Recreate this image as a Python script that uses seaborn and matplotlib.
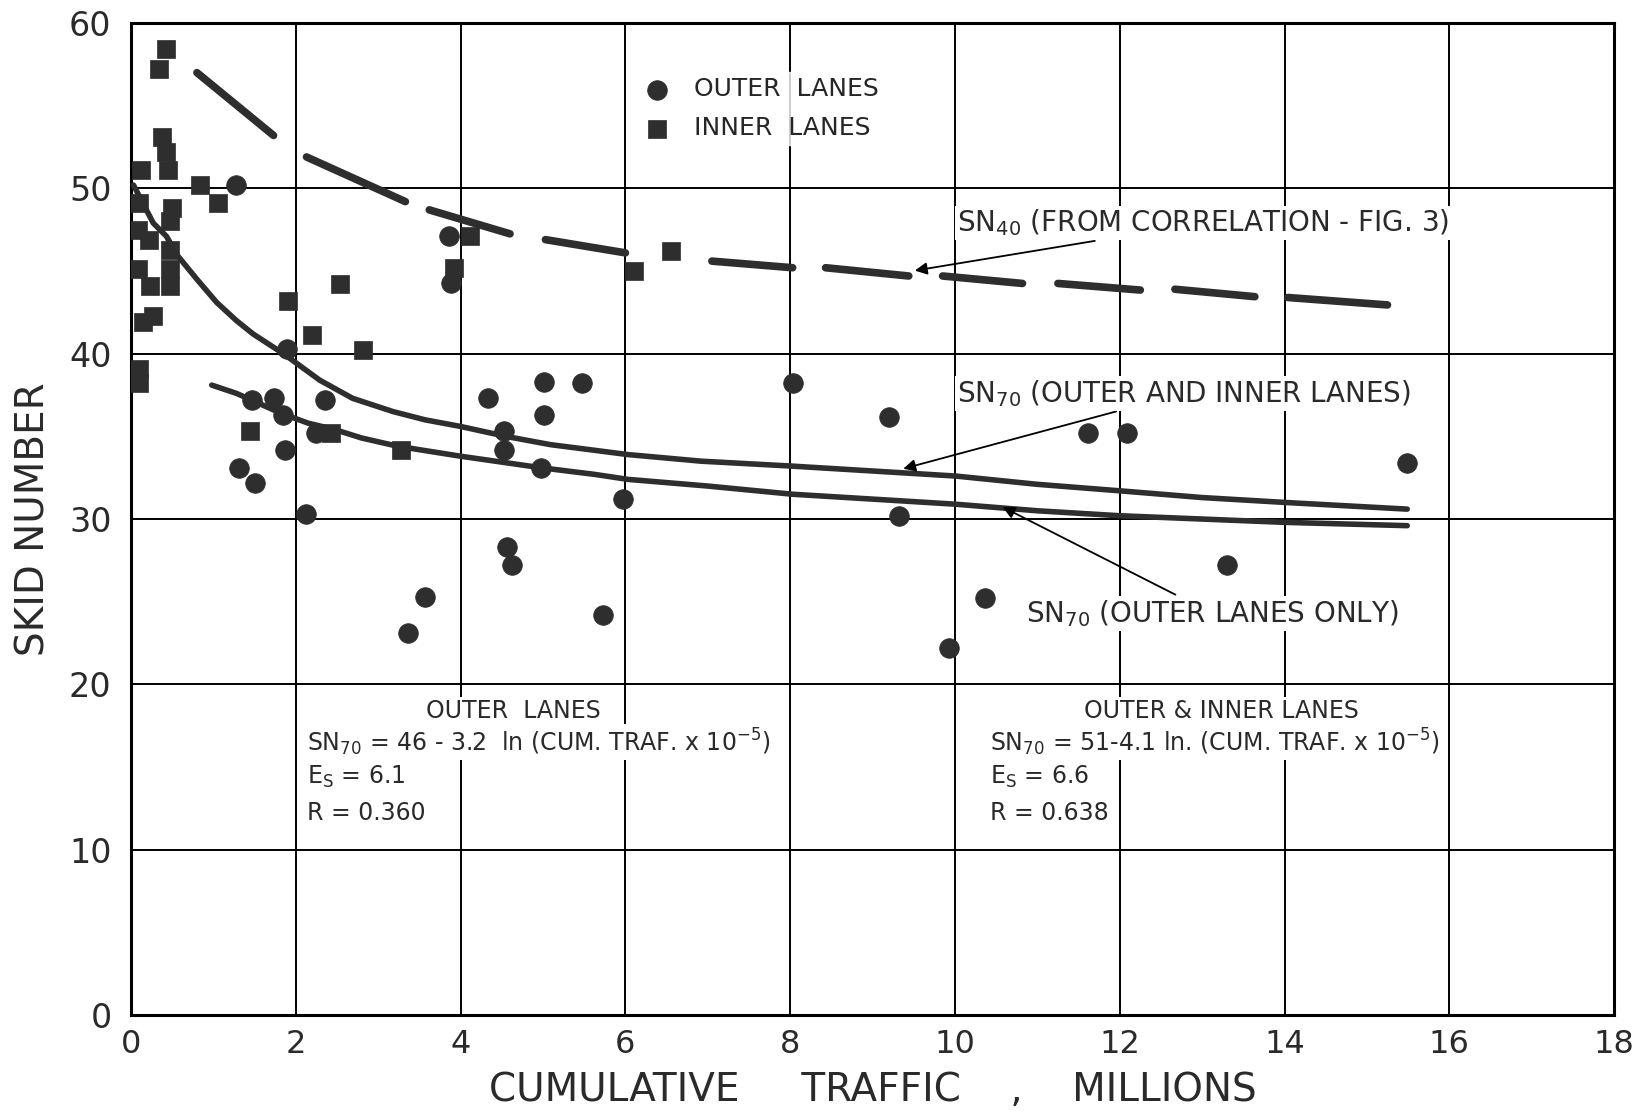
import matplotlib
matplotlib.use("Agg")
from matplotlib import pyplot as plt
import pandas as pd
import seaborn as sns

# Outer lanes (circles): traffic in millions, skid number
outer_x = [1.28, 3.86, 3.88, 1.89, 1.47, 1.73, 2.36, 1.85, 1.87, 1.31, 1.51, 2.12, 2.25,
           4.33, 5.01, 5.47, 5.01, 4.53, 4.53, 4.97, 5.97, 8.03, 4.56, 4.63, 3.57, 3.36,
           5.73, 9.20, 9.32, 11.61, 12.09, 15.49, 13.30, 10.37, 9.93]
outer_y = [50.2, 47.1, 44.3, 40.3, 37.2, 37.3, 37.2, 36.3, 34.2, 33.1, 32.2, 30.3, 35.2,
           37.3, 38.3, 38.2, 36.3, 35.3, 34.2, 33.1, 31.2, 38.2, 28.3, 27.2, 25.3, 23.1,
           24.2, 36.2, 30.2, 35.2, 35.2, 33.4, 27.2, 25.2, 22.2]

# Inner lanes (squares)
inner_x = [0.43, 0.34, 0.38, 0.43, 0.45, 0.12, 0.84, 1.06, 0.10, 0.50, 0.47, 0.08, 0.22,
           0.47, 0.47, 0.47, 0.08, 0.23, 0.27, 0.15, 0.10, 0.10, 4.11, 3.92, 6.11, 6.55,
           1.90, 2.54, 2.20, 2.81, 1.45, 2.43, 3.28]
inner_y = [58.4, 57.2, 53.1, 52.2, 51.1, 51.1, 50.2, 49.1, 49.1, 48.8, 48.0, 47.5, 46.9,
           46.3, 45.1, 44.1, 45.1, 44.1, 42.3, 41.9, 39.1, 38.2, 47.1, 45.2, 45.0, 46.2,
           43.2, 44.2, 41.15, 40.2, 35.3, 35.2, 34.2]

# SN70 fitted curves
both_x = [0.03, 0.27, 0.43, 0.57, 0.80, 1.04, 1.28, 1.48, 1.85, 2.29, 2.69, 3.18, 3.57,
          4.00, 4.55, 5.09, 6.03, 6.92, 8.03, 9.02, 10.01, 11.00, 12.02, 13.00, 14.02, 15.49]
both_y = [50.2, 47.9, 47.1, 45.9, 44.5, 43.1, 42.0, 41.2, 40.0, 38.4, 37.3, 36.5, 36.0,
          35.6, 35.0, 34.5, 33.9, 33.5, 33.2, 32.9, 32.6, 32.1, 31.7, 31.3, 31.0, 30.6]
outer_fit_x = [0.98, 1.28, 1.82, 2.15, 2.48, 2.80, 3.24, 3.62, 4.00, 4.98, 5.63, 6.03,
               6.99, 8.03, 9.02, 10.00, 11.00, 12.00, 13.00, 14.00, 15.49]
outer_fit_y = [38.1, 37.6, 36.4, 35.8, 35.4, 34.9, 34.4, 34.1, 33.8, 33.1, 32.7, 32.4,
               32.0, 31.5, 31.2, 30.9, 30.5, 30.2, 30.0, 29.8, 29.6]

# SN40 dashed curve: each dash drawn as read (start, end)
sn40_x = [0.80, 1.73, 2.13, 3.33, 3.62, 4.60, 5.03, 6.00, 7.05, 8.03, 8.43, 9.44,
          9.85, 10.82, 11.25, 12.25, 12.67, 13.64, 14.04, 15.25]
sn40_y = [57.0, 53.2, 51.9, 49.2, 48.7, 47.25, 46.9, 46.1, 45.6, 45.2, 45.2, 44.7,
          44.7, 44.25, 44.25, 43.85, 43.9, 43.45, 43.4, 42.95]
sn40_dash = [i // 2 for i in range(len(sn40_x))]

x_ticks = list(range(0, 19, 2))
y_ticks = list(range(0, 61, 10))

sns.set_theme(style="white")
plt.rcParams["font.family"] = ["DejaVu Sans"]
plt.rcParams["mathtext.default"] = "regular"

ink = "#2e2e2e"
txt = "#2a2a2a"
fig = plt.figure(figsize=(16.46, 11.13), dpi=100)
ax = fig.add_axes([0.0796, 0.088, 0.901, 0.8913])

# curves
sns.lineplot(x=both_x, y=both_y, ax=ax, color=ink, lw=4, sort=False, estimator=None,
             solid_capstyle="round", zorder=3)
sns.lineplot(x=outer_fit_x, y=outer_fit_y, ax=ax, color=ink, lw=4, sort=False,
             estimator=None, solid_capstyle="round", zorder=3)
sn40 = pd.DataFrame({"x": sn40_x, "y": sn40_y, "dash": sn40_dash})
sns.lineplot(data=sn40, x="x", y="y", units="dash", estimator=None, sort=False, ax=ax,
             color=ink, lw=5.5, solid_capstyle="round", zorder=3)

# points
sns.scatterplot(x=outer_x, y=outer_y, ax=ax, marker="o", s=200, color=ink,
                edgecolor=ink, linewidth=0.5, label="OUTER  LANES", zorder=4)
sns.scatterplot(x=inner_x, y=inner_y, ax=ax, marker="s", s=175, color=ink,
                edgecolor=ink, linewidth=0.5, label="INNER  LANES", zorder=4)

ax.set_xlim(0, 18)
ax.set_ylim(0, 60)
ax.set_xticks(x_ticks)
ax.set_yticks(y_ticks)
ax.set_xticklabels([str(t) for t in x_ticks], fontsize=23)
ax.set_yticklabels([str(t) for t in y_ticks], fontsize=24)
ax.tick_params(axis="x", length=0, pad=10, colors=txt)
ax.tick_params(axis="y", length=0, pad=14, colors=txt)
ax.grid(True, color="black", lw=1.4)
for sp in ax.spines.values():
    sp.set_color("black")
    sp.set_linewidth(2.2)

ax.set_xlabel("CUMULATIVE     TRAFFIC    ,    MILLIONS", fontsize=28, color=txt)
ax.set_ylabel("SKID NUMBER", fontsize=28, color=txt)
ax.xaxis.set_label_coords(0.5, -0.056)
ax.yaxis.set_label_coords(-0.053, 0.5)

leg = ax.legend(loc="upper left", bbox_to_anchor=(0.326, 0.963), frameon=True,
                fontsize=18, handletextpad=0.5, labelspacing=0.6, borderpad=0.2)
leg.get_frame().set_facecolor("white")
leg.get_frame().set_edgecolor("white")
leg.set_zorder(5)

box = dict(facecolor="white", edgecolor="none", pad=1.5)
arrow = dict(arrowstyle="-|>", color="black", lw=1.3, mutation_scale=18)
ax.annotate("SN$_{40}$ (FROM CORRELATION - FIG. 3)", xy=(9.48, 45.0), xytext=(10.02, 47.9),
            fontsize=20, va="center", ha="left", color=txt, bbox=box, arrowprops=arrow,
            zorder=6)
ax.annotate("SN$_{70}$ (OUTER AND INNER LANES)", xy=(9.34, 33.0), xytext=(10.02, 37.6),
            fontsize=20, va="center", ha="left", color=txt, bbox=box, arrowprops=arrow,
            zorder=6)
ax.annotate("SN$_{70}$ (OUTER LANES ONLY)", xy=(10.55, 30.8), xytext=(10.86, 24.3),
            fontsize=20, va="center", ha="left", color=txt, bbox=box, arrowprops=arrow,
            zorder=6)

small = 17
ax.text(4.64, 18.4, "OUTER  LANES", fontsize=small, ha="center", va="center", color=txt,
        bbox=box)
ax.text(2.14, 16.5, "SN$_{70}$ = 46 - 3.2  ln (CUM. TRAF. x 10$^{-5}$)", fontsize=small,
        ha="left", va="center", color=txt, bbox=box)
ax.text(2.14, 14.4, "E$_{S}$ = 6.1", fontsize=small, ha="left", va="center", color=txt,
        bbox=box)
ax.text(2.14, 12.25, "R = 0.360", fontsize=small, ha="left", va="center", color=txt,
        bbox=box)
ax.text(13.24, 18.4, "OUTER & INNER LANES", fontsize=small, ha="center", va="center",
        color=txt, bbox=box)
ax.text(10.43, 16.5, "SN$_{70}$ = 51-4.1 ln. (CUM. TRAF. x 10$^{-5}$)", fontsize=small,
        ha="left", va="center", color=txt, bbox=box)
ax.text(10.43, 14.4, "E$_{S}$ = 6.6", fontsize=small, ha="left", va="center", color=txt,
        bbox=box)
ax.text(10.43, 12.25, "R = 0.638", fontsize=small, ha="left", va="center", color=txt,
        bbox=box)

fig.savefig("out.png", dpi=100, facecolor="white")
